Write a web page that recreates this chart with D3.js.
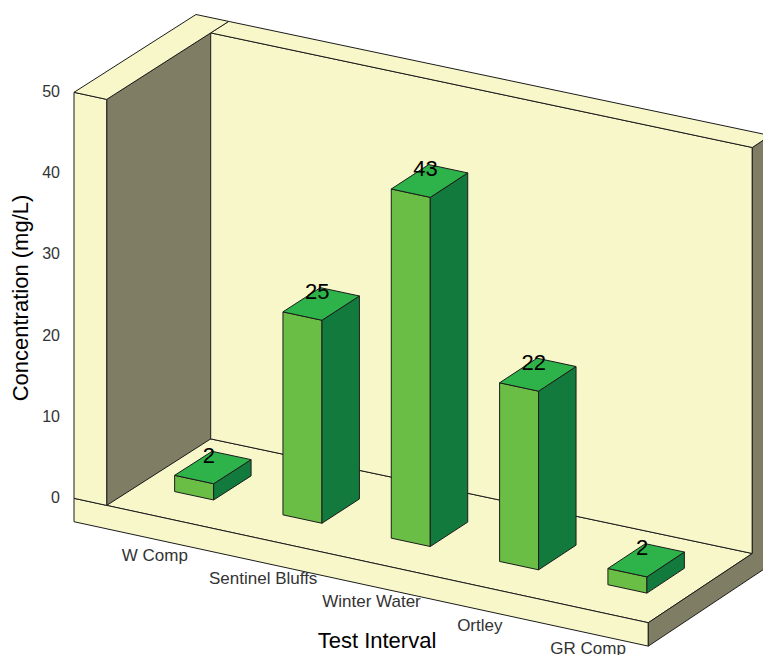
<!DOCTYPE html>
<html>
<head>
<meta charset="utf-8">
<script src="https://cdnjs.cloudflare.com/ajax/libs/d3/7.8.5/d3.min.js"></script>
<style>
  html, body { margin: 0; padding: 0; background: #ffffff; }
  svg { display: block; }
  text { font-family: "Liberation Sans", Arial, Helvetica, sans-serif; }
</style>
</head>
<body>
<svg id="chart" width="763" height="655"></svg>
<script>
// ---- data ----
const categories = ["W Comp", "Sentinel Bluffs", "Winter Water", "Ortley", "GR Comp"];
const concentrations = [2, 25, 43, 22, 2];
const valueDomain = [0, 50];
const yTickValues = [0, 10, 20, 30, 40, 50];
const yTitle = "Concentration (mg/L)";
const xTitle = "Test Interval";

// ---- 3D box geometry (screen pixels) ----
const origin = { x: 106.7, y: 505.4 };   // inner-left, front, floor level
const floorLen = 541.6;                  // length of the category axis
const slopeFront = 0.2166;               // screen rise of the category axis at the front
const slopeDepth = -0.005;               // slight convergence towards the back
const depthVec = { dx: 104, dy: -66.5 }; // front -> back wall
const wallH = 406;                       // height of the value axis
const wallT = 32.7;                      // left wall thickness
const backT = 0.173;                     // back wall thickness (depth fraction)
const slabH = 23.4;                      // floor slab thickness
const barDepth = 0.36;                   // bar depth as fraction of the box depth

const colors = {
  wall: "#F7F7C9",
  shade: "#7F7D63",
  edge: "#1c1c1c",
  barFront: "#6BBE45",
  barSide: "#137A3E",
  barTop: "#2EB34A"
};

const x = d3.scaleBand()
  .domain(categories)
  .range([0, floorLen])
  .paddingInner(0.64)
  .paddingOuter(0.32);

const y = d3.scaleLinear().domain(valueDomain).range([0, wallH]);

// project a point (X along categories, Y up, Z into depth) onto the screen
function P(X, Y, Z) {
  return [
    origin.x + X + Z * depthVec.dx,
    origin.y + X * (slopeFront + slopeDepth * Z) - Y + Z * depthVec.dy
  ];
}

const svg = d3.select("#chart");
const g = svg.append("g");

function face(pts, fill) {
  const d = "M" + pts.map(p => P(p[0], p[1], p[2]).map(v => v.toFixed(2)).join(",")).join("L") + "Z";
  g.append("path")
    .attr("d", d)
    .attr("fill", fill)
    .attr("stroke", colors.edge)
    .attr("stroke-width", 1)
    .attr("stroke-linejoin", "round");
}

const zBack = 1 + backT;

// floor slab
face([[-wallT, 0, 0], [floorLen, 0, 0], [floorLen, 0, 1], [-wallT, 0, 1]], colors.wall);
face([[-wallT, -slabH, 0], [floorLen, -slabH, 0], [floorLen, 0, 0], [-wallT, 0, 0]], colors.wall);

// back wall front face
face([[-wallT, 0, 1], [floorLen, 0, 1], [floorLen, wallH, 1], [-wallT, wallH, 1]], colors.wall);

// right end of floor slab and back wall
face([[floorLen, -slabH, 0], [floorLen, -slabH, zBack], [floorLen, wallH, zBack],
      [floorLen, wallH, 1], [floorLen, 0, 1], [floorLen, 0, 0]], colors.shade);

// back wall top
face([[0, wallH, 1], [floorLen, wallH, 1], [floorLen, wallH, zBack], [0, wallH, zBack]], colors.wall);

// left wall
face([[0, 0, 0], [0, 0, 1], [0, wallH, 1], [0, wallH, 0]], colors.shade);
face([[-wallT, 0, 0], [0, 0, 0], [0, wallH, 0], [-wallT, wallH, 0]], colors.wall);
face([[-wallT, wallH, 0], [0, wallH, 0], [0, wallH, zBack], [-wallT, wallH, zBack]], colors.wall);

// bars
const z0 = 0.5 - barDepth / 2, z1 = 0.5 + barDepth / 2;
const bw = x.bandwidth();
categories.forEach((c, i) => {
  const X0 = x(c), X1 = X0 + bw, H = y(concentrations[i]);
  face([[X0, 0, z0], [X1, 0, z0], [X1, H, z0], [X0, H, z0]], colors.barFront);
  face([[X1, 0, z0], [X1, 0, z1], [X1, H, z1], [X1, H, z0]], colors.barSide);
  face([[X0, H, z0], [X1, H, z0], [X1, H, z1], [X0, H, z1]], colors.barTop);
});

// value labels on the bar tops
categories.forEach((c, i) => {
  const p = P(x(c) + bw / 2, y(concentrations[i]), 0.5);
  svg.append("text")
    .attr("x", p[0] - 4)
    .attr("y", p[1] - 5)
    .attr("text-anchor", "middle")
    .attr("font-size", 22)
    .attr("fill", "#000")
    .text(concentrations[i]);
});

// value axis tick labels along the front edge of the left wall
yTickValues.forEach(t => {
  const p = P(-wallT, y(t), 0);
  svg.append("text")
    .attr("x", p[0] - 14)
    .attr("y", p[1] - 1)
    .attr("dy", "0.35em")
    .attr("text-anchor", "end")
    .attr("font-size", 16)
    .attr("fill", "#333")
    .text(t);
});

// category labels below the floor's front edge
categories.forEach(c => {
  const p = P(x(c) + bw / 2, -slabH, 0);
  svg.append("text")
    .attr("x", p[0] - 6)
    .attr("y", p[1] + 20)
    .attr("text-anchor", "middle")
    .attr("font-size", 17)
    .attr("fill", "#333")
    .text(c);
});

// axis titles
svg.append("text")
  .attr("transform", "translate(28,298) rotate(-90)")
  .attr("text-anchor", "middle")
  .attr("font-size", 22)
  .attr("fill", "#000")
  .text(yTitle);

svg.append("text")
  .attr("x", 377)
  .attr("y", 648)
  .attr("text-anchor", "middle")
  .attr("font-size", 22)
  .attr("fill", "#000")
  .text(xTitle);
</script>
</body>
</html>
